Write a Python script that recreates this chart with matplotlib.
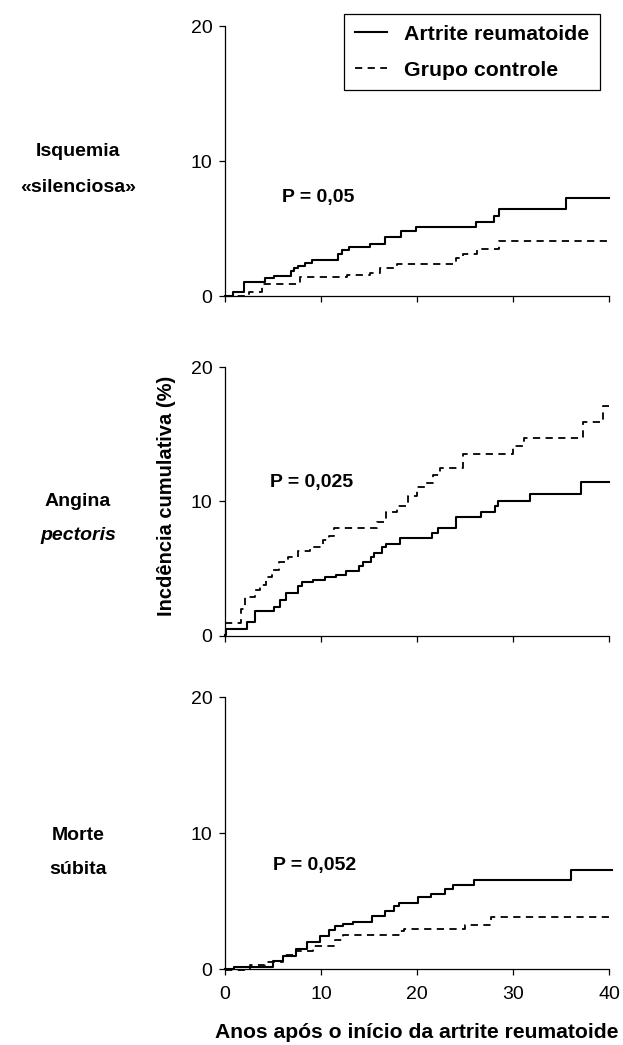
import matplotlib
matplotlib.use('Agg')
import matplotlib.pyplot as plt

plt.rcParams['font.family'] = ['Liberation Sans', 'DejaVu Sans']

W, H = 623, 1045

# --- data (years since RA onset, cumulative incidence %) ---
isq_ar_t = [0, 0.8, 2.0, 4.2, 5.1, 6.9, 7.2, 7.6, 8.3, 9.1, 11.8, 12.2, 12.9, 15.1, 16.7,
            18.3, 19.9, 26.1, 28.0, 28.5, 35.5, 40]
isq_ar_y = [0, 0.3, 1.05, 1.3, 1.5, 1.85, 2.05, 2.2, 2.45, 2.7, 3.1, 3.4, 3.6, 3.85, 4.35,
            4.85, 5.1, 5.5, 5.9, 6.45, 7.25, 7.25]
isq_ct_t = [0, 2.5, 3.8, 7.8, 12.7, 15.1, 16.1, 17.9, 24.1, 24.8, 26.2, 28.5, 40]
isq_ct_y = [0, 0.32, 0.9, 1.43, 1.56, 1.68, 2.1, 2.35, 2.8, 3.1, 3.5, 4.05, 4.05]

ang_ar_t = [0, 0.1, 2.3, 3.1, 5.1, 5.7, 6.4, 7.6, 8.0, 9.2, 10.4, 11.6, 12.6, 14.0, 14.4,
            15.2, 15.5, 16.4, 16.8, 18.2, 21.6, 22.2, 24.1, 26.7, 28.1, 28.4, 31.8, 37.1, 40]
ang_ar_y = [0.1, 0.54, 1.04, 1.88, 2.12, 2.67, 3.2, 3.73, 4.0, 4.2, 4.35, 4.57, 4.84, 5.23, 5.5,
            5.88, 6.17, 6.62, 6.86, 7.3, 7.65, 8.0, 8.84, 9.23, 9.68, 10.07, 10.57, 11.46, 11.46]
ang_ct_t = [0, 1.7, 2.1, 3.1, 3.6, 4.3, 4.9, 5.6, 6.6, 7.6, 8.9, 10.2, 10.8, 11.3, 15.8,
            16.8, 17.9, 19.1, 20.0, 20.8, 21.7, 22.4, 24.8, 30.0, 31.1, 37.3, 39.4, 40]
ang_ct_y = [1.0, 2.0, 2.9, 3.4, 3.8, 4.4, 4.9, 5.5, 5.9, 6.3, 6.6, 7.1, 7.4, 8.0, 8.5,
            9.2, 9.7, 10.4, 11.1, 11.4, 12.0, 12.5, 13.5, 14.1, 14.7, 15.9, 17.1, 17.1]

ms_ar_t = [0, 0.9, 5.0, 6.0, 7.4, 8.5, 9.9, 10.8, 11.5, 12.3, 13.3, 15.3, 16.7, 17.6, 18.1,
           20.1, 21.5, 22.9, 23.7, 25.9, 36.0, 40.3]
ms_ar_y = [0.0, 0.12, 0.56, 0.93, 1.47, 1.96, 2.4, 2.9, 3.14, 3.33, 3.43, 3.92, 4.24, 4.6, 4.85,
           5.3, 5.5, 5.9, 6.2, 6.52, 7.25, 7.25]
ms_ct_t = [0, 2.6, 4.2, 6.0, 7.4, 9.2, 11.5, 12.3, 18.2, 18.6, 25.0, 27.7, 40.3]
ms_ct_y = [-0.1, 0.3, 0.5, 1.05, 1.3, 1.7, 2.15, 2.5, 2.77, 2.97, 3.26, 3.8, 3.8]

p_values = ['P = 0,05', 'P = 0,025', 'P = 0,052']
p_pos = [(5.9, 7.3), (4.7, 11.4), (5.0, 7.6)]
series_labels = ['Artrite reumatoide', 'Grupo controle']
xticks = [0, 10, 20, 30, 40]
yticks = [0, 10, 20]


def px(x, y):
    return x / W, 1 - y / H


fig = plt.figure(figsize=(W / 100, H / 100), dpi=100)

rects = [[0.3612, 0.7167, 0.6164, 0.2584],
         [0.3612, 0.3914, 0.6164, 0.2574],
         [0.3612, 0.0727, 0.6164, 0.2603]]
panels = [(isq_ar_t, isq_ar_y, isq_ct_t, isq_ct_y),
          (ang_ar_t, ang_ar_y, ang_ct_t, ang_ct_y),
          (ms_ar_t, ms_ar_y, ms_ct_t, ms_ct_y)]

handles = None
for i, (rect, (at, ay, ct, cy)) in enumerate(zip(rects, panels)):
    ax = fig.add_axes(rect)
    l1, = ax.step(at, ay, where='post', color='black', lw=1.5, clip_on=False)
    l2, = ax.step(ct, cy, where='post', color='black', lw=1.3,
                  linestyle=(0, (4.0, 3.0)), clip_on=False)
    if handles is None:
        handles = [l1, l2]
    ax.set_xlim(0, 40)
    ax.set_ylim(0, 20)
    ax.set_xticks(xticks)
    ax.set_yticks(yticks)
    for s in ['top', 'right']:
        ax.spines[s].set_visible(False)
    for s in ['left', 'bottom']:
        ax.spines[s].set_linewidth(0.9)
    ax.tick_params(direction='out', length=4, width=0.9, labelsize=14, pad=5)
    ax.tick_params(axis='x', pad=8)
    if i < 2:
        ax.tick_params(labelbottom=False)
    ax.text(p_pos[i][0], p_pos[i][1], p_values[i], fontsize=14, fontweight='bold',
            ha='left', va='center')

# legend sits partly above the top panel, like in the original
fig.legend(handles, series_labels, loc='upper right', bbox_to_anchor=px(600, 14),
           frameon=True, fancybox=False, edgecolor='black', framealpha=1,
           borderaxespad=0, borderpad=0.5, handlelength=1.5, handletextpad=0.82,
           labelspacing=0.8, prop={'weight': 'bold', 'size': 15.3})
fig.legends[0].get_frame().set_linewidth(0.9)

# left-side row labels
fig.text(*px(78, 152), 'Isquemia', fontsize=14, fontweight='bold', ha='center', va='center')
fig.text(*px(78, 187), '«silenciosa»', fontsize=14, fontweight='bold', ha='center', va='center')
fig.text(*px(78, 501), 'Angina', fontsize=14, fontweight='bold', ha='center', va='center')
fig.text(*px(78, 536), 'pectoris', fontsize=14, fontweight='bold', style='italic',
         ha='center', va='center')
fig.text(*px(78, 835), 'Morte', fontsize=14, fontweight='bold', ha='center', va='center')
fig.text(*px(78, 869), 'súbita', fontsize=14, fontweight='bold', ha='center', va='center')

fig.text(*px(166, 496), 'Incdência cumulativa (%)', fontsize=14.5, fontweight='bold',
         rotation=90, ha='center', va='center')
fig.text(*px(417, 1032), 'Anos após o início da artrite reumatoide', fontsize=15.2,
         fontweight='bold', ha='center', va='center')

fig.savefig('out.png', dpi=100)
